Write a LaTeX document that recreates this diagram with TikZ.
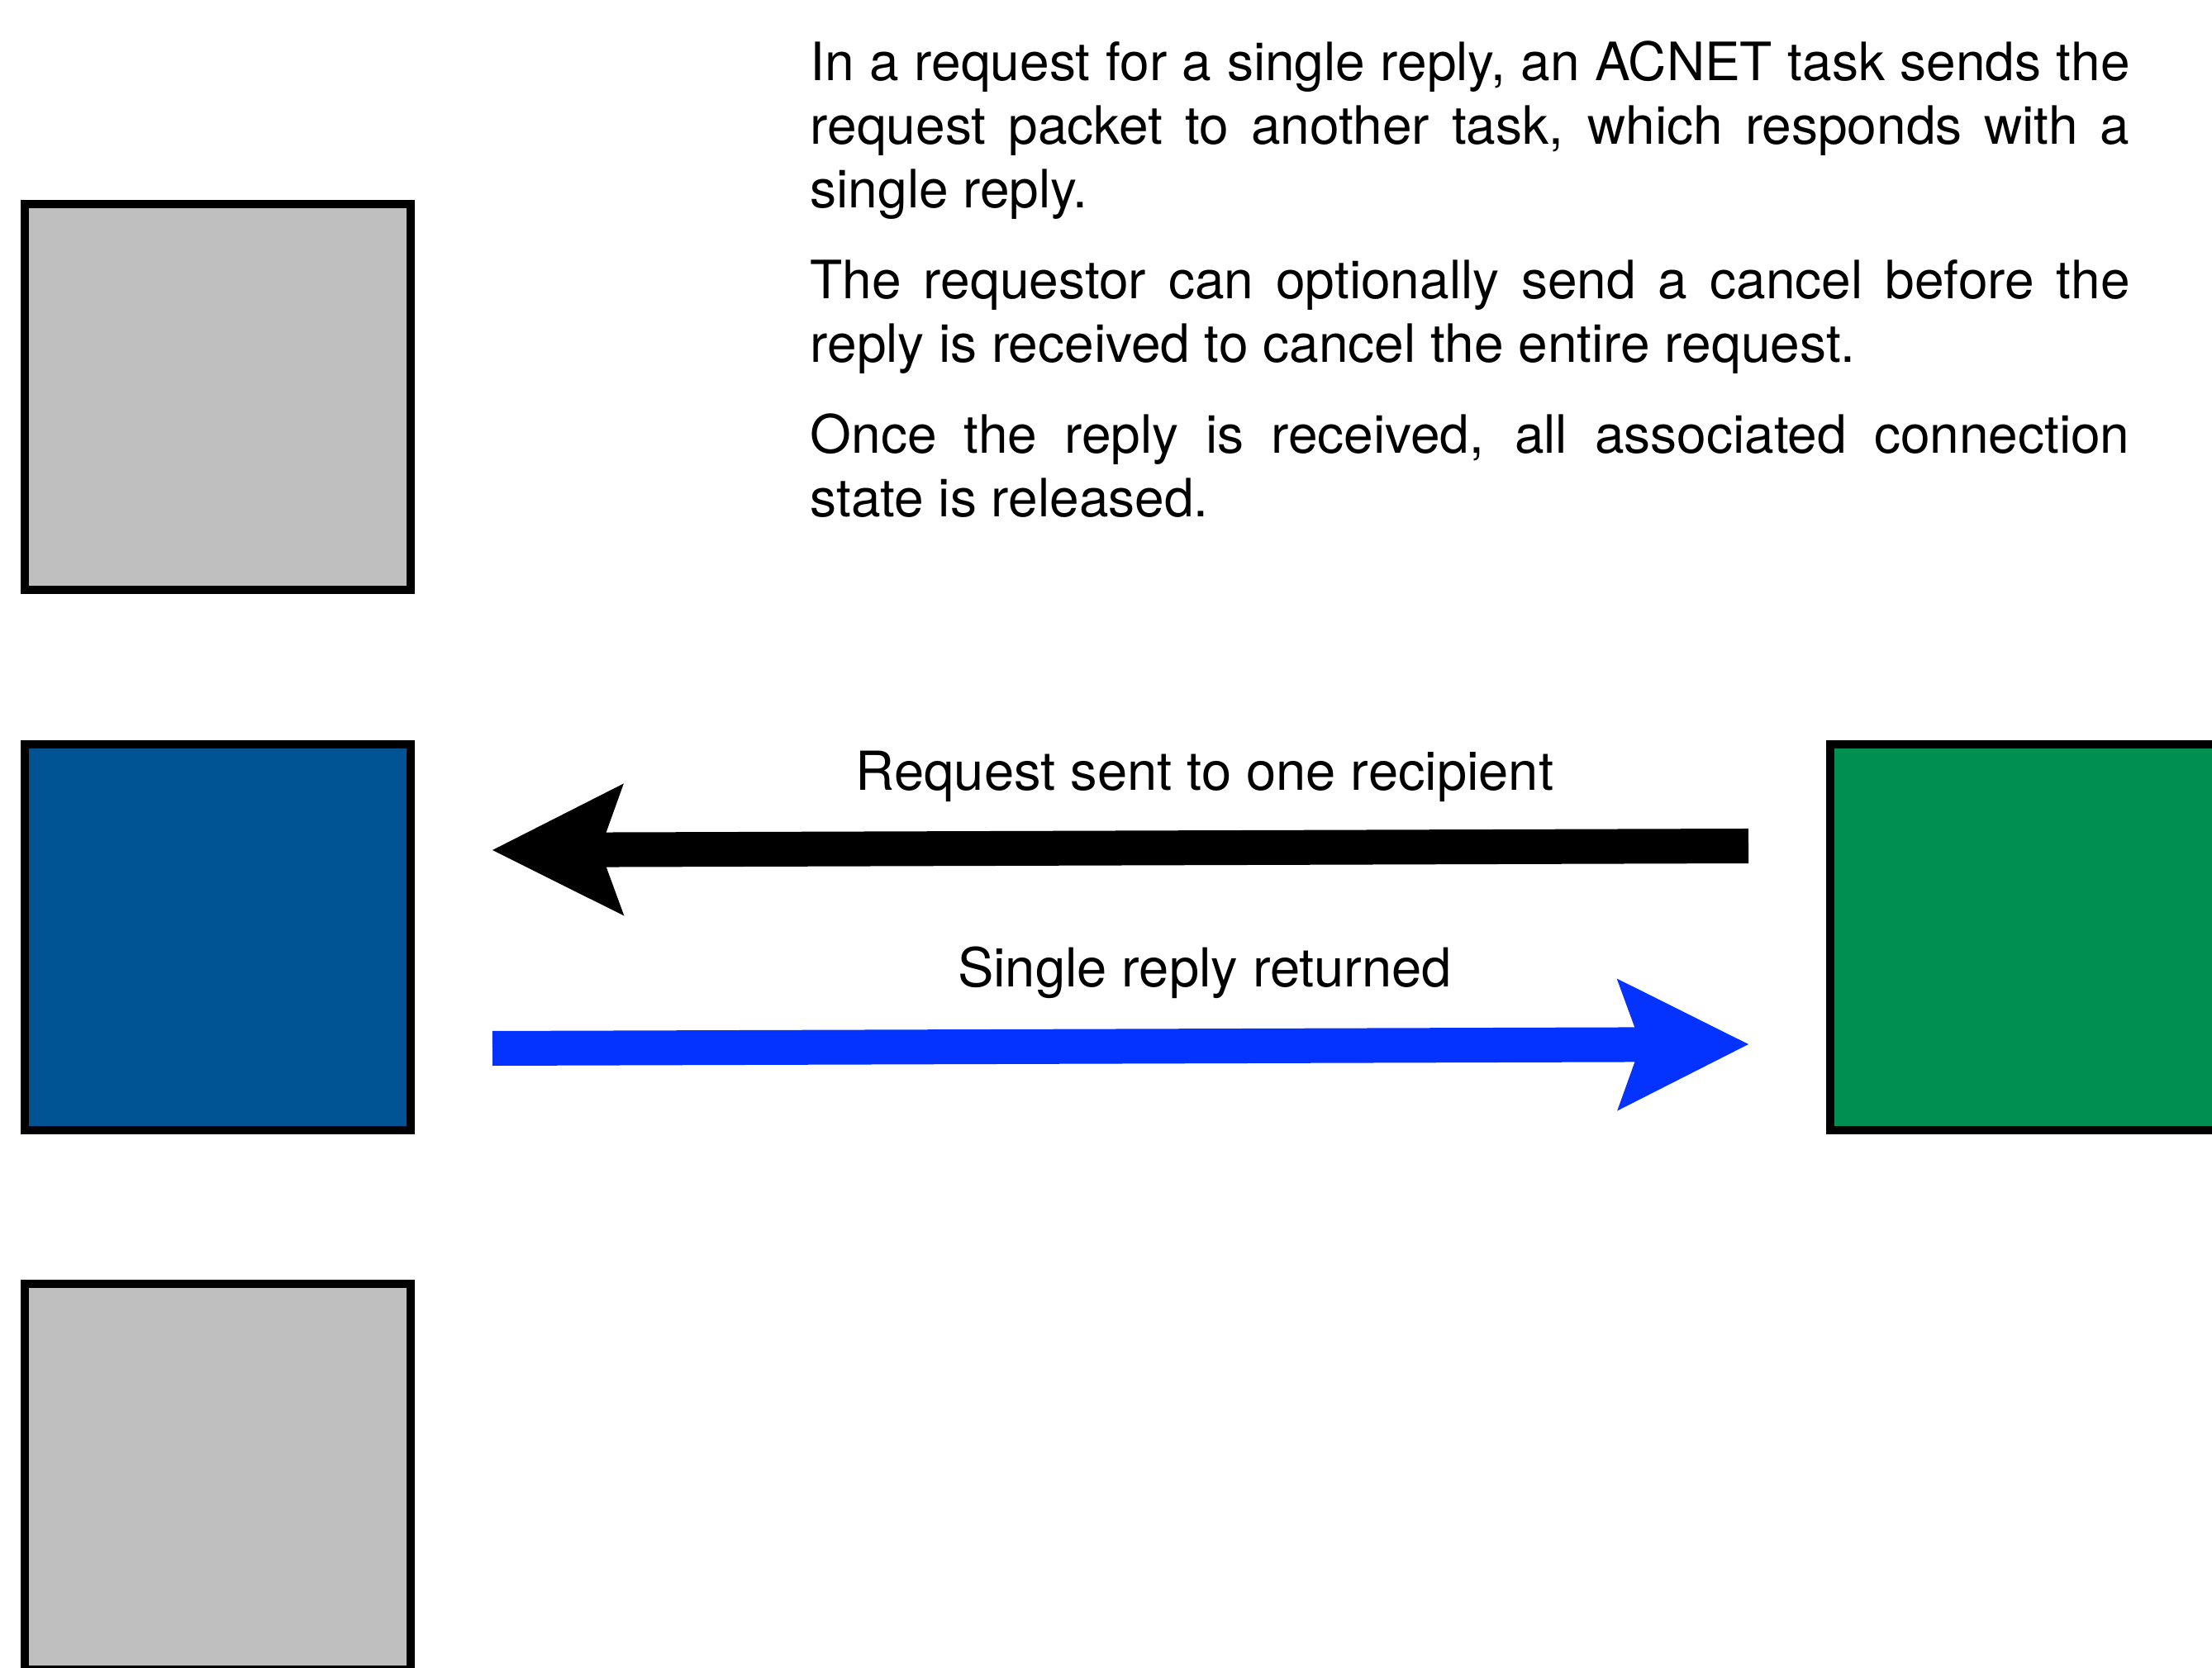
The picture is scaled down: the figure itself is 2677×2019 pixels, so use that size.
\documentclass[tikz,border=0pt]{standalone}
\usepackage{fontspec}
\setmainfont{TeX Gyre Heros}
\usetikzlibrary{arrows.meta}
\definecolor{taskgray}{RGB}{191,191,191}
\definecolor{oceanblue}{RGB}{0,84,147}
\definecolor{mossgreen}{RGB}{0,143,81}
\definecolor{replyblue}{RGB}{4,51,255}
\begin{document}
\begin{tikzpicture}[x=0.01cm, y=-0.01cm,
  taskbox/.style={draw=black, line width=0.105cm, minimum size=4.665cm, inner sep=0pt, outer sep=0pt},
  msgarrow/.style={line width=0.42cm, -{Stealth[length=1.59cm, width=1.6cm, inset=0.29cm, line width=0pt]}},
  textfont/.style={font=\fontsize{18.2pt}{21.9pt}\selectfont},
  lbl/.style={font=\fontsize{18.5pt}{22pt}\selectfont, inner sep=0pt, anchor=base}]
\useasboundingbox (0,0) rectangle (2677,2019);

% tasks
\node[taskbox, fill=taskgray]  (peerTop)    at (263.5,480.5)  {};
\node[taskbox, fill=oceanblue] (requester)  at (263.5,1134.5) {};
\node[taskbox, fill=taskgray]  (peerBottom) at (263.5,1787.5) {};
\node[taskbox, fill=mossgreen] (responder)  at (2448.5,1134.5) {};

% description
\node[textfont, anchor=north west, inner sep=0pt, text width=15.96cm, align=justify] (desc) at (980,42.8)
  {\parindent=0pt\hyphenpenalty=10000\exhyphenpenalty=10000
   \strut In a request for a single reply, an ACNET task sends the\linebreak
   request packet to another task, which responds with a\linebreak
   single reply.\par\vspace{9.4pt}
   The requestor can optionally send a cancel before the\linebreak
   reply is received to cancel the entire request.\par\vspace{9.4pt}
   Once the reply is received, all associated connection\linebreak
   state is released.};

% messages
\coordinate (reqTail) at (2116,1024);
\coordinate (reqTip)  at (596,1029);
\coordinate (repTail) at (596,1269);
\coordinate (repTip)  at (2116,1264);
\draw[msgarrow, black]     (reqTail) -- (reqTip);
\draw[msgarrow, replyblue] (repTail) -- (repTip);

\node[lbl] (reqLabel) at (1458,956.7) {Request sent to one recipient};
\node[lbl] (repLabel) at (1458,1195)  {Single reply returned};
\end{tikzpicture}
\end{document}
